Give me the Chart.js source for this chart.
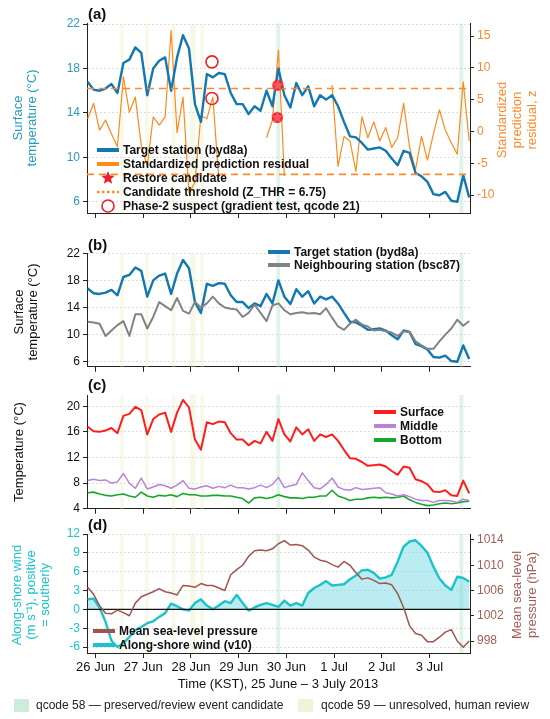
<!DOCTYPE html>
<html>
<head>
<meta charset="UTF-8">
<script src="https://cdn.jsdelivr.net/npm/chart.js@4.4.1/dist/chart.umd.min.js"></script>
<style>
  body { margin: 0; background: #fff; }
  #wrap { position: relative; width: 550px; height: 719px; }
  canvas { position: absolute; left: 0; }
</style>
</head>
<body>
<div id="wrap">
  <canvas id="pa" width="550" height="232" style="top:0px"></canvas>
  <canvas id="pb" width="550" height="145" style="top:232px"></canvas>
  <canvas id="pc" width="550" height="142" style="top:377px"></canvas>
  <canvas id="pd" width="550" height="200" style="top:519px"></canvas>
</div>
<script>
// time axis: days after 26 Jun 00:00 KST, 3-hourly from 25 Jun 20:00
const T0 = -1 / 6;
const STEP = 0.125;
const X_MIN = -0.18, X_MAX = 7.85;

const dayTicks = [0, 1, 2, 3, 4, 5, 6, 7];
const dayLabels = ['26 Jun', '27 Jun', '28 Jun', '29 Jun', '30 Jun', '1 Jul', '2 Jul', '3 Jul'];

const tempTicksAB = [6, 10, 14, 18, 22];
const tempTicksC = [4, 8, 12, 16, 20];
const zTicks = [-10, -5, 0, 5, 10, 15];
const windTicks = [-6, -3, 0, 3, 6, 9, 12];
const presTicks = [998, 1002, 1006, 1010, 1014];

// series (3-hourly)
const targetSurface = [16.8,16.1,16.0,16.2,16.6,15.8,18.5,18.8,19.9,19.4,15.6,18.0,18.7,19.0,16.0,19.0,21.0,19.8,14.8,13.2,17.5,17.2,17.6,17.5,15.8,14.8,14.8,13.9,14.6,14.2,16.0,14.6,18.0,15.6,14.5,16.7,15.6,16.4,14.6,15.6,15.2,15.6,14.6,13.2,11.9,11.8,11.3,10.7,10.8,10.9,10.6,9.9,9.3,10.6,10.4,8.6,8.3,7.8,6.7,6.6,6.9,6.1,6.0,8.4,6.4];
const residualZ = [2.0,4.4,0.2,1.8,-0.4,-2.4,8.6,3.0,5.4,-2.2,-5.5,2.3,1.0,2.3,15.9,-0.2,5.4,-9.7,-8.0,2.5,2.0,5.4,-7.5,null,null,null,null,null,null,null,-1.0,1.8,12.8,-7.0,null,null,null,null,null,null,null,7.3,-5.5,-0.8,-1.5,-6.3,2.3,-1.0,1.5,-1.5,0.6,-2.5,-1.0,4.4,-2.5,-6.0,-0.8,-4.5,-0.4,3.4,0.2,-1.8,-3.6,7.8,-1.5];
const neighbour = [11.9,11.8,11.6,9.8,10.6,11.4,12.0,9.8,13.0,13.0,10.9,12.6,14.8,14.2,13.6,15.4,13.5,13.1,14.8,14.0,14.6,15.6,14.6,14.0,13.8,13.7,12.6,13.2,14.4,13.2,12.0,14.3,14.6,13.6,13.0,13.2,13.3,13.1,13.2,13.0,13.9,12.5,11.2,10.7,11.6,12.2,11.5,11.2,10.6,10.7,10.5,10.3,9.8,10.5,10.4,9.0,8.4,7.9,7.9,9.0,10.0,10.9,12.2,11.3,12.0];
const middleTemp = [8.4,8.6,8.4,8.5,8.0,8.2,9.5,8.0,7.2,8.8,7.1,7.4,7.8,7.6,7.2,7.7,8.4,7.2,7.1,7.4,7.6,7.2,7.5,7.3,7.7,7.3,7.3,7.1,7.3,7.7,7.3,7.8,8.9,7.3,7.6,7.8,9.6,8.4,7.3,7.1,7.8,8.8,7.4,7.0,6.9,7.3,7.0,7.1,7.2,7.3,6.5,6.3,6.0,6.2,5.9,5.5,5.3,5.3,5.0,5.3,5.3,5.2,5.0,5.5,5.3];
const bottomTemp = [6.5,6.6,6.3,6.1,6.0,6.2,6.3,6.0,5.8,6.6,6.0,5.8,6.1,6.0,6.2,5.9,6.4,6.2,6.2,6.0,6.0,6.1,6.1,6.0,6.0,5.8,5.6,4.9,5.7,5.8,5.6,5.8,6.2,5.9,5.7,5.7,5.6,5.8,5.8,6.0,6.0,6.9,6.0,5.7,5.3,5.5,5.5,5.7,5.8,5.7,5.8,5.7,5.8,6.0,5.4,5.0,4.7,4.5,4.6,4.8,4.9,4.8,4.9,5.1,5.2];
const windV10 = [1.6,1.7,0.3,-2.0,-5.0,-6.0,-5.4,-4.4,-3.3,-2.8,-2.2,-1.9,-1.2,-0.6,0.9,0.5,0.0,-0.2,1.0,1.6,0.6,0.0,0.6,1.3,1.0,2.3,1.0,-0.2,0.3,0.7,1.0,0.7,0.4,1.4,0.6,1.0,0.6,2.6,3.4,3.9,4.5,3.8,3.9,4.0,4.8,5.4,6.2,6.3,5.8,4.9,5.1,5.5,7.6,10.0,10.8,11.0,10.1,9.0,6.8,4.9,3.8,3.1,5.2,5.0,4.4];
const mslp = [1006.5,1005.4,1003.6,1002.4,1002.3,1002.9,1002.5,1002.0,1004.0,1005.0,1005.4,1005.8,1006.3,1005.8,1005.6,1005.3,1006.8,1006.7,1006.5,1007.1,1006.8,1006.8,1006.4,1006.0,1008.5,1009.3,1010.0,1011.4,1012.3,1012.4,1012.3,1012.6,1013.4,1013.9,1013.2,1013.3,1013.1,1012.4,1011.3,1010.8,1010.6,1010.1,1009.7,1010.6,1010.0,1008.8,1007.8,1008.0,1007.6,1007.1,1007.2,1006.9,1005.5,1003.3,1000.4,999.2,998.9,997.9,997.9,998.6,999.4,999.8,998.0,997.0,998.0];

// flagged points
const phase2Days = [2.44, 2.44];
const phase2Temp = [18.6, 15.3];
const restoreDays = [3.82, 3.81];
const restoreTemp = [16.5, 13.6];
const zThr = 6.75;

// flag bands [start, end] in days
const qcode58Bands = [[3.79, 3.87], [7.63, 7.71]];
const qcode59Bands = [[0.52, 0.59], [1.04, 1.11], [1.60, 1.67], [1.98, 2.10], [2.20, 2.27]];

const FONT = "'Liberation Sans', Arial, sans-serif";
Chart.defaults.font.family = FONT;
Chart.defaults.animation = false;

const C = {
  target: '#1377b0', resid: '#ff8a1c', thr: '#ff8a2e', grey: '#838383',
  surf: '#ff1e1e', mid: '#b983d8', bot: '#18a52c', wind: '#1cc3ca', pres: '#a0564e',
  teal: '#2b9cc0', orange: '#ff8a2e', cyan: '#1cc3ca', brown: '#a45c55', red: '#ee1f26'
};

const series = vals => vals.map((v, i) => ({ x: T0 + i * STEP, y: v }));
const flat = v => [{ x: X_MIN, y: v }, { x: X_MAX, y: v }];
const pts = (xs, ys) => xs.map((x, i) => ({ x, y: ys[i] }));

function makeStar(r, disc) {
  const s = Math.ceil(r * 2 + 4);
  const c = document.createElement('canvas');
  c.width = s; c.height = s;
  const g = c.getContext('2d');
  g.translate(s / 2, s / 2);
  if (disc) {
    g.beginPath(); g.arc(0, 0, r * 0.85, 0, Math.PI * 2); g.fillStyle = C.red; g.fill();
  }
  g.beginPath();
  for (let i = 0; i < 10; i++) {
    const rr = i % 2 ? r * 0.45 : r;
    const a = -Math.PI / 2 + i * Math.PI / 5;
    g.lineTo(rr * Math.cos(a), rr * Math.sin(a));
  }
  g.closePath();
  g.fillStyle = disc ? '#f55a60' : C.red;
  g.fill();
  return c;
}
const starMarker = makeStar(6.5, true);
const starLegend = makeStar(7, false);

// shaded flag bands, drawn under the lines
Chart.register({
  id: 'bands',
  beforeDatasetsDraw(chart) {
    const { ctx, chartArea: a, scales: { x } } = chart;
    ctx.save();
    const paint = (list, color) => list.forEach(([s, e]) => {
      const x0 = x.getPixelForValue(s), x1 = x.getPixelForValue(e);
      ctx.fillStyle = color;
      ctx.fillRect(x0, a.top, x1 - x0, a.bottom - a.top);
    });
    paint(qcode59Bands, 'rgba(236,236,196,0.38)');
    paint(qcode58Bands, 'rgba(170,224,196,0.38)');
    ctx.restore();
  }
});

function vtext(ctx, lines, x0, yc, gap, color) {
  ctx.save();
  ctx.fillStyle = color;
  ctx.font = '13px ' + FONT;
  ctx.textAlign = 'center';
  ctx.textBaseline = 'middle';
  lines.forEach((s, i) => {
    ctx.save();
    ctx.translate(x0 + i * gap, yc);
    ctx.rotate(-Math.PI / 2);
    ctx.fillText(s, 0, 0);
    ctx.restore();
  });
  ctx.restore();
}

function panelTag(ctx, s, y) {
  ctx.save();
  ctx.fillStyle = '#111';
  ctx.font = 'bold 15px ' + FONT;
  ctx.textBaseline = 'middle';
  ctx.fillText(s, 88, y);
  ctx.restore();
}

function legendRow(ctx, kind, color, label, x, y) {
  ctx.save();
  ctx.strokeStyle = color;
  if (kind === 'line') {
    ctx.lineWidth = 4;
    ctx.beginPath(); ctx.moveTo(x, y); ctx.lineTo(x + 22, y); ctx.stroke();
  } else if (kind === 'dots') {
    ctx.lineWidth = 2.5;
    ctx.setLineDash([2.5, 2.5]);
    ctx.beginPath(); ctx.moveTo(x, y); ctx.lineTo(x + 22, y); ctx.stroke();
  } else if (kind === 'star') {
    ctx.drawImage(starLegend, x + 11 - starLegend.width / 2, y - starLegend.height / 2);
  } else if (kind === 'circle') {
    ctx.lineWidth = 1.6;
    ctx.beginPath(); ctx.arc(x + 11, y, 6, 0, Math.PI * 2); ctx.stroke();
  }
  ctx.fillStyle = '#111';
  ctx.font = 'bold 12px ' + FONT;
  ctx.textBaseline = 'middle';
  ctx.fillText(label, x + 26, y + 0.5);
  ctx.restore();
}

function yAxis(pos, min, max, ticks, color, onArea) {
  return {
    type: 'linear', position: pos, min, max,
    afterBuildTicks: s => { s.ticks = ticks.map(v => ({ value: v })); },
    afterFit: s => { s.width = pos === 'left' ? 87 : 80; },
    ticks: { color, font: { size: 12 }, padding: 3, callback: v => String(v) },
    grid: { drawOnChartArea: onArea, color: '#d6d6d6', lineWidth: 0.8, tickColor: '#222', tickWidth: 1, tickLength: 4 },
    border: { display: true, color: '#222', width: 1, dash: [2, 2] }
  };
}

function xAxis(h, labels) {
  return {
    type: 'linear', min: X_MIN, max: X_MAX,
    afterBuildTicks: s => { s.ticks = dayTicks.map(v => ({ value: v })); },
    afterFit: s => { s.height = h; },
    ticks: { display: labels, color: '#111', font: { size: 13 }, padding: 2, maxRotation: 0,
             callback: (v, i) => dayLabels[i] },
    grid: { drawOnChartArea: false, tickColor: '#222', tickWidth: 1, tickLength: 5 },
    border: { display: true, color: '#222', width: 1 }
  };
}

const baseOpts = (padTop, padRight, scales) => ({
  responsive: false,
  layout: { padding: { top: padTop, right: padRight, left: 0, bottom: 0 } },
  elements: { point: { radius: 0 }, line: { tension: 0, borderJoinStyle: 'round' } },
  plugins: { legend: { display: false }, tooltip: { enabled: false } },
  scales
});

const line = (label, data, color, width, axis, order, extra) =>
  Object.assign({ label, data, borderColor: color, borderWidth: width, yAxisID: axis, order,
                  pointRadius: 0, fill: false, spanGaps: false }, extra || {});

// (a) target vs standardized residual
new Chart(document.getElementById('pa'), {
  type: 'line',
  data: { datasets: [
    line('Phase-2 suspect', pts(phase2Days, phase2Temp), C.red, 1.6, 'y', -3,
         { showLine: false, pointRadius: 6, pointStyle: 'circle', pointBorderColor: C.red,
           pointBackgroundColor: 'rgba(0,0,0,0)', pointBorderWidth: 1.6 }),
    line('Restore candidate', pts(restoreDays, restoreTemp), C.red, 1, 'y', -2,
         { showLine: false, pointRadius: 7, pointStyle: starMarker }),
    line('Threshold +', flat(zThr), C.thr, 1.6, 'z', -1, { borderDash: [7, 5] }),
    line('Threshold -', flat(-zThr), C.thr, 1.6, 'z', -1, { borderDash: [7, 5] }),
    line('Target station (byd8a)', series(targetSurface), C.target, 2.4, 'y', 1),
    line('Standardized prediction residual', series(residualZ), C.resid, 1.2, 'z', 2)
  ] },
  options: baseOpts(23.5, 0, {
    x: xAxis(19, false),
    y: yAxis('left', 5.0, 22.05, tempTicksAB, C.teal, true),
    z: yAxis('right', -12.83, 16.97, zTicks, C.orange, false)
  }),
  plugins: [{
    id: 'decoA',
    afterDraw(chart) {
      const ctx = chart.ctx;
      panelTag(ctx, '(a)', 15);
      vtext(ctx, ['Surface', 'temperature (°C)'], 18, 118, 14.5, C.teal);
      vtext(ctx, ['Standardized', 'prediction', 'residual, z'], 502, 120, 15, C.orange);
      legendRow(ctx, 'line', C.target, 'Target station (byd8a)', 97, 150);
      legendRow(ctx, 'line', C.resid, 'Standardized prediction residual', 97, 164);
      legendRow(ctx, 'star', C.red, 'Restore candidate', 97, 178);
      legendRow(ctx, 'dots', C.thr, 'Candidate threshold (Z_THR = 6.75)', 97, 192);
      legendRow(ctx, 'circle', C.red, 'Phase-2 suspect (gradient test, qcode 21)', 97, 206);
    }
  }]
});

// (b) target vs neighbour
new Chart(document.getElementById('pb'), {
  type: 'line',
  data: { datasets: [
    line('Neighbouring station (bsc87)', series(neighbour), C.grey, 2, 'y', 1),
    line('Target station (byd8a)', series(targetSurface), C.target, 2.4, 'y', 2)
  ] },
  options: baseOpts(21, 80, {
    x: xAxis(5, false),
    y: yAxis('left', 5.25, 22.04, tempTicksAB, '#111', true)
  }),
  plugins: [{
    id: 'decoB',
    afterDraw(chart) {
      const ctx = chart.ctx, off = 232;
      panelTag(ctx, '(b)', 246 - off);
      vtext(ctx, ['Surface', 'temperature (°C)'], 19, 312 - off, 14.5, '#111');
      legendRow(ctx, 'line', C.target, 'Target station (byd8a)', 268, 252 - off);
      legendRow(ctx, 'line', C.grey, 'Neighbouring station (bsc87)', 268, 265 - off);
    }
  }]
});

// (c) vertical profile
new Chart(document.getElementById('pc'), {
  type: 'line',
  data: { datasets: [
    line('Surface', series(targetSurface), C.surf, 2, 'y', 1),
    line('Middle', series(middleTemp), C.mid, 1.5, 'y', 2),
    line('Bottom', series(bottomTemp), C.bot, 1.6, 'y', 3)
  ] },
  options: baseOpts(18, 80, {
    x: xAxis(5.7, false),
    y: yAxis('left', 4, 21.75, tempTicksC, '#111', true)
  }),
  plugins: [{
    id: 'decoC',
    afterDraw(chart) {
      const ctx = chart.ctx, off = 377;
      panelTag(ctx, '(c)', 386 - off);
      vtext(ctx, ['Temperature (°C)'], 19, 452 - off, 14.5, '#111');
      legendRow(ctx, 'line', C.surf, 'Surface', 374, 412 - off);
      legendRow(ctx, 'line', C.mid, 'Middle', 374, 426 - off);
      legendRow(ctx, 'line', C.bot, 'Bottom', 374, 440 - off);
    }
  }]
});

// (d) wind and pressure
new Chart(document.getElementById('pd'), {
  type: 'line',
  data: { datasets: [
    line('Mean sea-level pressure', series(mslp), C.pres, 1.5, 'p', 0),
    line('Zero', flat(0), '#111', 1.2, 'y', 1),
    line('Along-shore wind (v10)', series(windV10), C.wind, 2.4, 'y', 2,
         { fill: { target: { value: 0 }, above: 'rgba(118,218,230,0.5)', below: 'rgba(0,0,0,0)' } })
  ] },
  options: baseOpts(15, 0, {
    x: xAxis(66, true),
    y: yAxis('left', -6.95, 12, windTicks, C.cyan, true),
    p: yAxis('right', 996.1, 1014.95, presTicks, C.brown, false)
  }),
  plugins: [{
    id: 'decoD',
    afterDraw(chart) {
      const ctx = chart.ctx, off = 519;
      panelTag(ctx, '(d)', 526 - off);
      vtext(ctx, ['Along-shore wind', '(m s\u207B\u00B9), positive', '= southerly'], 17.5, 595 - off, 14, C.cyan);
      vtext(ctx, ['Mean sea-level', 'pressure (hPa)'], 517, 595 - off, 15, C.brown);
      legendRow(ctx, 'line', C.pres, 'Mean sea-level pressure', 93, 631 - off);
      legendRow(ctx, 'line', C.wind, 'Along-shore wind (v10)', 93, 645 - off);

      ctx.save();
      ctx.fillStyle = '#111';
      ctx.font = '13px ' + FONT;
      ctx.textAlign = 'center';
      ctx.textBaseline = 'middle';
      ctx.fillText('Time (KST), 25 June \u2013 3 July 2013', 278, 684 - off);
      ctx.textAlign = 'left';
      ctx.font = '12px ' + FONT;
      ctx.fillStyle = 'rgba(170,224,196,0.6)';
      ctx.fillRect(14, 699 - off, 15, 13);
      ctx.fillStyle = 'rgba(236,236,196,0.7)';
      ctx.fillRect(298, 699 - off, 15, 13);
      ctx.fillStyle = '#222';
      ctx.fillText('qcode 58 \u2014 preserved/review event candidate', 36, 706 - off);
      ctx.fillText('qcode 59 \u2014 unresolved, human review', 321, 706 - off);
      ctx.restore();
    }
  }]
});
</script>
</body>
</html>
